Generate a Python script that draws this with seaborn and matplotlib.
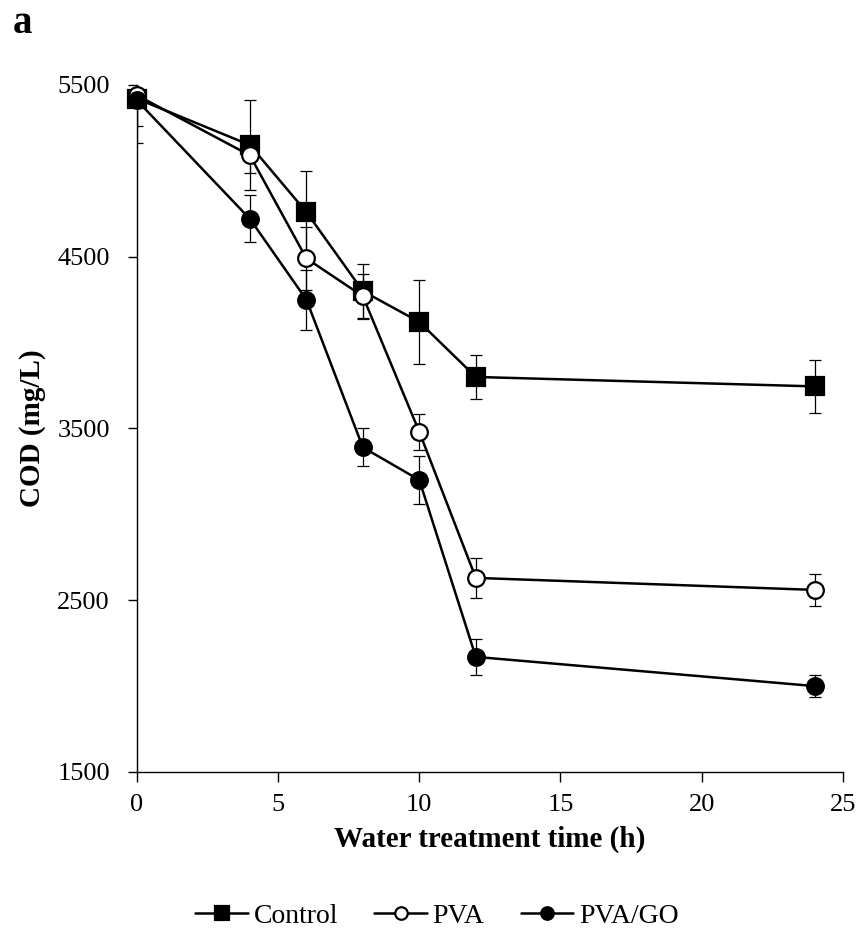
import matplotlib
matplotlib.use("Agg")
import matplotlib.pyplot as plt
import seaborn as sns
import pandas as pd

# values (COD in mg/L)
times = [0, 4, 6, 8, 10, 12, 24]
control = [5420, 5150, 4760, 4300, 4120, 3800, 3745]
control_err = [160, 260, 237, 155, 245, 130, 155]
pva = [5440, 5090, 4490, 4270, 3480, 2630, 2560]
pva_err = [75, 105, 185, 130, 105, 116, 93]
pva_go = [5410, 4720, 4250, 3390, 3200, 2170, 2000]
pva_go_err = [245, 137, 175, 110, 137, 105, 64]

series_names = ["Control", "PVA", "PVA/GO"]
y_ticks = [1500, 2500, 3500, 4500, 5500]
x_ticks = [0, 5, 10, 15, 20, 25]

sns.set_style("white")
plt.rcParams["font.family"] = ["Liberation Serif", "DejaVu Serif"]
plt.rcParams.update({"text.color": "black", "axes.labelcolor": "black",
                     "xtick.color": "black", "ytick.color": "black"})

frames = []
for name, vals, errs in zip(series_names, [control, pva, pva_go],
                            [control_err, pva_err, pva_go_err]):
    frames.append(pd.DataFrame({"time": times, "cod": vals, "err": errs, "series": name}))
df = pd.concat(frames, ignore_index=True)

marker_style = {
    "Control": dict(marker="s", markerfacecolor="black", markersize=12.5),
    "PVA": dict(marker="o", markerfacecolor="white", markersize=12),
    "PVA/GO": dict(marker="o", markerfacecolor="black", markersize=12),
}

fig = plt.figure(figsize=(8.6, 9.39), dpi=100)
ax = fig.add_axes([0.1593, 0.1779, 0.8207, 0.7316])

for name in series_names:
    sub = df[df["series"] == name]
    # error bars first so markers sit on top
    ax.errorbar(sub["time"], sub["cod"], yerr=sub["err"], fmt="none",
                ecolor="black", elinewidth=0.9, capsize=4.5, capthick=0.9, zorder=2)
    sns.lineplot(data=sub, x="time", y="cod", ax=ax, color="black", linewidth=1.8,
                 markeredgecolor="black", markeredgewidth=1.6, label=name,
                 clip_on=False, zorder=3, **marker_style[name])

ax.set_xlim(0, 25)
ax.set_ylim(1500, 5500)
ax.set_xticks(x_ticks)
ax.set_yticks(y_ticks)
ax.tick_params(axis="x", direction="out", length=7, width=1, labelsize=19, pad=9, bottom=True)
ax.tick_params(axis="y", direction="out", length=6.5, width=1, labelsize=19, pad=13, left=True)
for side in ["top", "right"]:
    ax.spines[side].set_visible(False)
for side in ["left", "bottom"]:
    ax.spines[side].set_color("black")
    ax.spines[side].set_linewidth(1)

ax.set_xlabel("Water treatment time (h)", fontsize=21, fontweight="bold", labelpad=7)
ax.set_ylabel("COD (mg/L)", fontsize=21, fontweight="bold", labelpad=8)

ax.get_legend().remove()
handles, labels = ax.get_legend_handles_labels()
fig.legend(handles, labels, loc="center", bbox_to_anchor=(0.508, 0.024), ncol=3,
           frameon=False, fontsize=20, handlelength=1.9, handletextpad=0.2,
           columnspacing=1.3, markerscale=0.75)

fig.text(0.015, 0.975, "a", fontsize=28, fontweight="bold", va="center", ha="left")

fig.savefig("out.png", dpi=100)
